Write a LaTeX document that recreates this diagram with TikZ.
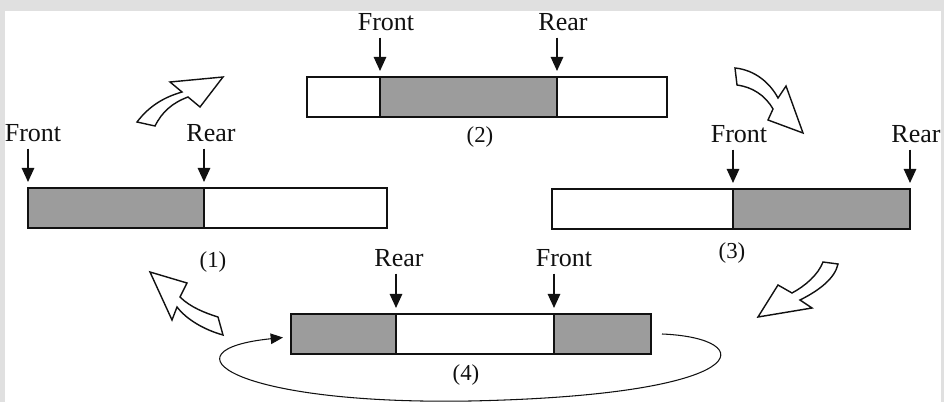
\documentclass[tikz,border=0pt]{standalone}
\usepackage{fontspec}
\setmainfont{Liberation Serif}
\usetikzlibrary{arrows.meta, positioning}
\definecolor{qkFrame}{HTML}{E0E0E0}
\definecolor{qkFill}{HTML}{9C9C9C}
\definecolor{qkInk}{HTML}{111111}
\tikzset{
  qkcell/.style={draw=qkInk, line width=0.8pt, minimum width=#1*0.2mm,
    minimum height=8mm, inner sep=0pt, outer sep=0pt},
  qkused/.style={qkcell=#1, fill=qkFill},
  qktag/.style={font=\fontsize{14.8}{16}\selectfont, inner sep=1pt, text=qkInk},
  qknum/.style={font=\fontsize{13}{15}\selectfont, inner sep=1pt, text=qkInk},
  qkptr/.style={-{Triangle[length=8pt, width=7pt]}, line width=1.1pt,
    draw=qkInk, shorten <=2.8pt, shorten >=3.4pt},
  qkturn/.style={draw=qkInk, line width=0.8pt, fill=white, line join=miter},
  qkwrap/.style={-{Triangle[length=7pt, width=6pt]}, line width=0.6pt, draw=qkInk},
}
\begin{document}
\begin{tikzpicture}[x=0.2mm, y=-0.2mm]

  \fill[qkFrame] (0,0) rectangle (944,402);
  \fill[white] (5,11) rectangle (941,402);
  \useasboundingbox (0,0) rectangle (944,402);

  % --- (1) -------------------------------------------------------------
  \node[qkused=176, anchor=north west] (q1a) at (28,188) {};
  \node[qkcell=183, right=0pt of q1a]  (q1b) {};
  \node[qktag] (q1f) at (33,133)  {Front};
  \node[qktag] (q1r) at (211,133) {Rear};
  \node[qknum] (q1n) at (213,262) {(1)};
  \draw[qkptr] (q1f.south -| q1a.north west) -- (q1a.north west);
  \draw[qkptr] (q1r.south -| q1b.north west) -- (q1b.north west);

  % --- (2) -------------------------------------------------------------
  \node[qkcell=73, anchor=north west] (q2a) at (307,77) {};
  \node[qkused=177, right=0pt of q2a] (q2b) {};
  \node[qkcell=110, right=0pt of q2b] (q2c) {};
  \node[qktag] (q2f) at (386,22) {Front};
  \node[qktag] (q2r) at (563,22) {Rear};
  \node[qknum] (q2n) at (480,137) {(2)};
  \draw[qkptr] (q2f.south -| q2b.north west) -- (q2b.north west);
  \draw[qkptr] (q2r.south -| q2c.north west) -- (q2c.north west);

  % --- (3) -------------------------------------------------------------
  \node[qkcell=181, anchor=north west] (q3a) at (552,189) {};
  \node[qkused=177, right=0pt of q3a]  (q3b) {};
  \node[qktag] (q3f) at (739,134) {Front};
  \node[qktag] (q3r) at (916,134) {Rear};
  \node[qknum] (q3n) at (732,253) {(3)};
  \draw[qkptr] (q3f.south -| q3b.north west) -- (q3b.north west);
  \draw[qkptr] (q3r.south -| q3b.north east) -- (q3b.north east);

  % --- (4) wrapped around ---------------------------------------------
  \node[qkused=105, anchor=north west] (q4a) at (291,314) {};
  \node[qkcell=158, right=0pt of q4a]  (q4b) {};
  \node[qkused=97, right=0pt of q4b]   (q4c) {};
  \node[qktag] (q4r) at (399,258) {Rear};
  \node[qktag] (q4f) at (564,258) {Front};
  \node[qknum] (q4n) at (466,375) {(4)};
  \draw[qkptr] (q4r.south -| q4b.north west) -- (q4b.north west);
  \draw[qkptr] (q4f.south -| q4c.north west) -- (q4c.north west);
  \draw[qkwrap] ([xshift=2.2mm]q4c.east)
        .. controls (760,338) and (760,395) .. (470,401)
        .. controls (230,405) and (160,350) .. ([xshift=-1.6mm, yshift=-0.7mm]q4a.west);

  % --- hollow turn arrows between the states ----------------------------
  \draw[qkturn] (137,122) .. controls (150,105) and (165,97) .. (182,92)
        -- (170,82) -- (223,77) -- (200,107) -- (188,97)
        .. controls (172,103) and (162,112) .. (155,126) -- cycle;
  \draw[qkturn] (735,68) .. controls (755,70) and (770,83) .. (778,98)
        -- (786,86) -- (803,133) -- (768,120) -- (773,109)
        .. controls (765,95) and (752,87) .. (737,85) -- cycle;
  \draw[qkturn] (823,262) .. controls (818,275) and (805,286) .. (792,293)
        -- (778,285) -- (758,317) -- (812,308) -- (800,300)
        .. controls (820,290) and (835,278) .. (838,264) -- cycle;
  \draw[qkturn] (150,272) -- (187,283) -- (180,297)
        .. controls (190,307) and (205,313) .. (218,317) -- (223,335)
        .. controls (205,330) and (187,320) .. (177,307) -- (172,320) -- cycle;

\end{tikzpicture}
\end{document}
